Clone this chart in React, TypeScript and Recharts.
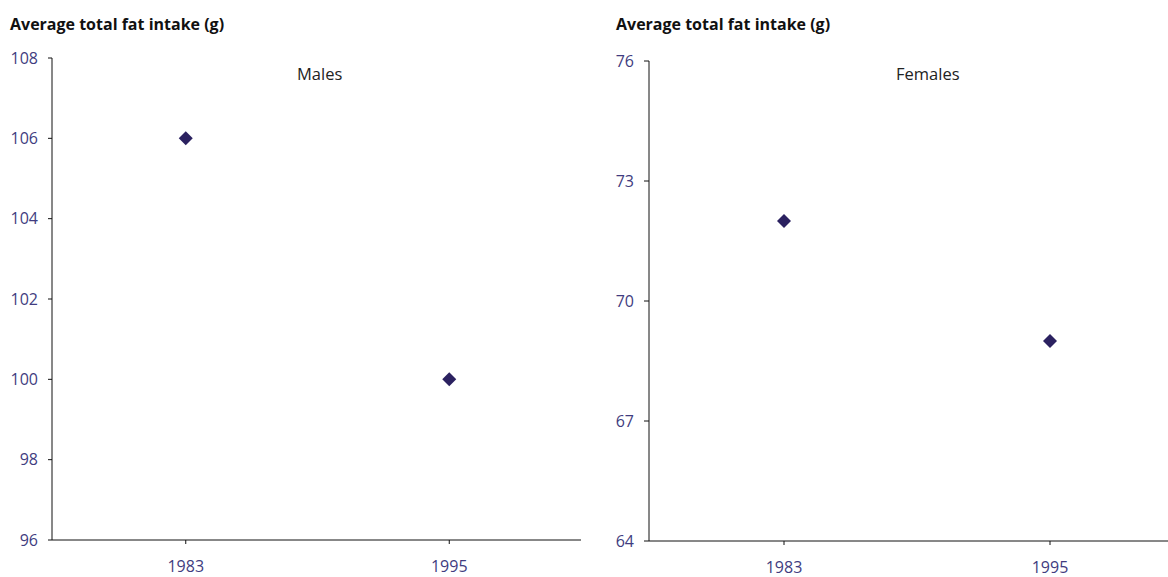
import React from 'react';
import { ScatterChart, Scatter, XAxis, YAxis } from 'recharts';

const years = ['1983', '1995'];
const malesValues = [106, 100];
const femalesValues = [72, 69];
const malesTicks = [96, 98, 100, 102, 104, 106, 108];
const femalesTicks = [64, 67, 70, 73, 76];
const titleText = 'Average total fat intake (g)';

const malesData = years.map((y, i) => ({ year: y, value: malesValues[i] }));
const femalesData = years.map((y, i) => ({ year: y, value: femalesValues[i] }));

const TICK_COLOR = '#413c80';
const MARK_COLOR = '#2b2160';
const AXIS_COLOR = '#111';
const FONT = '"Open Sans", "Noto Sans", sans-serif';

const Diamond = (props: any) => {
  const { cx, cy } = props;
  if (cx == null || cy == null) return null;
  const r = 7;
  return <path d={`M${cx},${cy - r}L${cx + r},${cy}L${cx},${cy + r}L${cx - r},${cy}Z`} fill={MARK_COLOR} />;
};

const tickStyle = { fill: TICK_COLOR, fontSize: 16, fontFamily: FONT };

export default function App() {
  return (
    <div style={{ position: 'absolute', left: 0, top: 0, width: 1168, height: 577, overflow: 'hidden', background: '#fff', fontFamily: FONT }}>
      <div style={{ position: 'absolute', left: 10, top: 13, fontSize: 16, fontWeight: 700, color: '#111', whiteSpace: 'nowrap' }}>{titleText}</div>
      <div style={{ position: 'absolute', left: 616, top: 13, fontSize: 16, fontWeight: 700, color: '#111', whiteSpace: 'nowrap' }}>{titleText}</div>
      <div style={{ position: 'absolute', left: 297, top: 62, fontSize: 16.5, color: '#222' }}>Males</div>
      <div style={{ position: 'absolute', left: 896, top: 62, fontSize: 16.5, color: '#222' }}>Females</div>

      <div style={{ position: 'absolute', left: 0, top: 0 }}>
        <ScatterChart width={600} height={577} margin={{ top: 58, right: 19, bottom: 0, left: 0 }}>
          <XAxis
            dataKey="year"
            type="category"
            scale="band"
            allowDuplicatedCategory={false}
            height={37}
            stroke={AXIS_COLOR}
            padding={{ left: 2, right: 0 }}
            tickSize={4}
            tickMargin={17}
            tick={tickStyle}
          />
          <YAxis
            dataKey="value"
            type="number"
            domain={[96, 108]}
            ticks={malesTicks}
            width={52}
            stroke={AXIS_COLOR}
            tickSize={4}
            tickMargin={10}
            tick={tickStyle}
            interval={0}
          />
          <Scatter data={malesData} shape={<Diamond />} isAnimationActive={false} />
        </ScatterChart>
      </div>

      <div style={{ position: 'absolute', left: 590, top: 0 }}>
        <ScatterChart width={600} height={577} margin={{ top: 61, right: 7, bottom: 0, left: 0 }}>
          <XAxis
            dataKey="year"
            type="category"
            scale="band"
            allowDuplicatedCategory={false}
            height={36}
            stroke={AXIS_COLOR}
            padding={{ left: 2, right: 0 }}
            tickSize={4}
            tickMargin={17}
            tick={tickStyle}
          />
          <YAxis
            dataKey="value"
            type="number"
            domain={[64, 76]}
            ticks={femalesTicks}
            width={59}
            stroke={AXIS_COLOR}
            tickSize={5}
            tickMargin={10}
            tick={tickStyle}
            interval={0}
          />
          <Scatter data={femalesData} shape={<Diamond />} isAnimationActive={false} />
        </ScatterChart>
      </div>
    </div>
  );
}
